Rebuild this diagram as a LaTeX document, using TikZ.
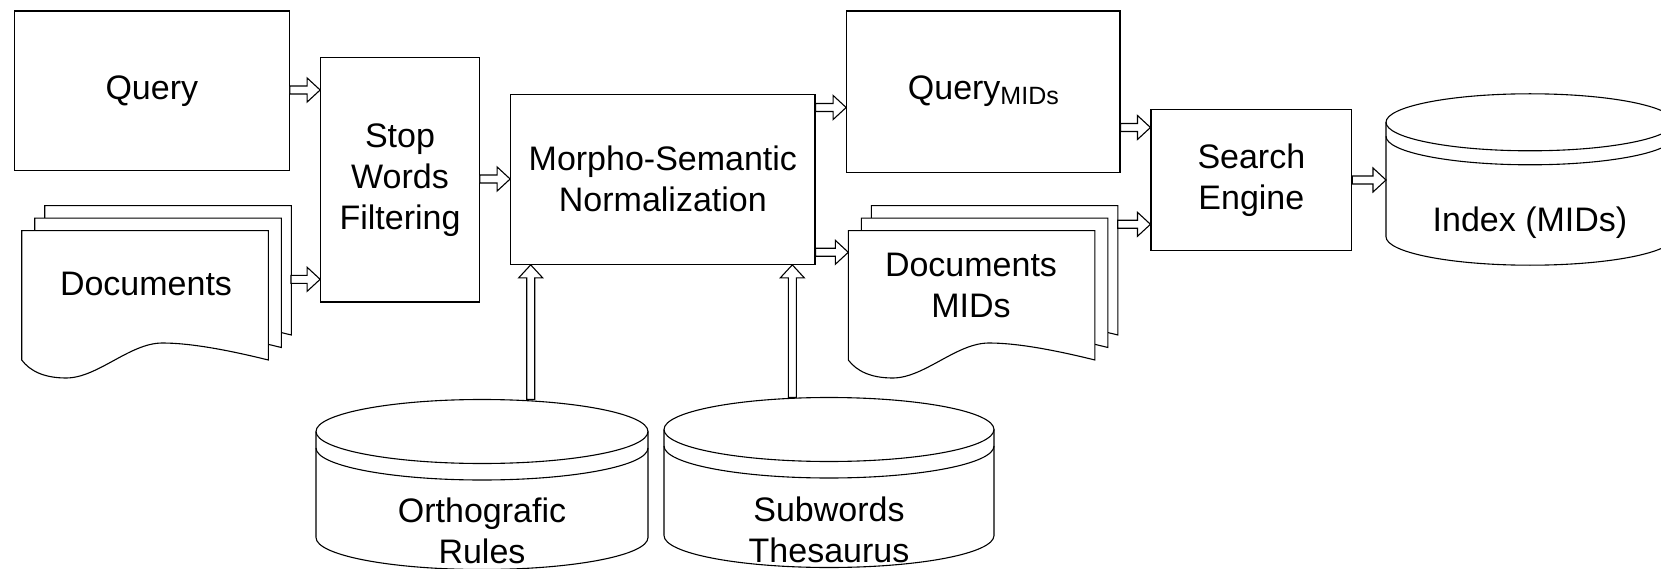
\documentclass[tikz,border=0pt]{standalone}
\usepackage{fontspec}
\setmainfont{Liberation Sans}
\usetikzlibrary{calc}
\tikzset{
  shp/.style={draw=black, line width=1.1pt, fill=white, line join=miter},
  box/.style={shp, inner sep=0pt, align=center, font=\fontsize{34}{41}\selectfont},
  ghost/.style={inner sep=0pt, outer sep=0pt},
  lbl/.style={inner sep=0pt, align=center, font=\fontsize{34}{41}\selectfont},
  hfat/.style={shp, to path={let \p1=(\tikztostart), \p2=(\tikztotarget) in
     (\x1,{\y1+4pt}) -- ({\x2-13pt},{\y1+4pt}) -- ({\x2-13pt},{\y1+12pt}) -- (\x2,\y1)
     -- ({\x2-13pt},{\y1-12pt}) -- ({\x2-13pt},{\y1-4pt}) -- (\x1,{\y1-4pt}) -- cycle}},
  vfat/.style={shp, to path={let \p1=(\tikztostart), \p2=(\tikztotarget) in
     ({\x1-4pt},\y1) -- ({\x1-4pt},{\y2-13pt}) -- ({\x1-12pt},{\y2-13pt}) -- (\x1,\y2)
     -- ({\x1+12pt},{\y2-13pt}) -- ({\x1+4pt},{\y2-13pt}) -- ({\x1+4pt},\y1) -- cycle}}
}
\newcommand\docsheet{%
  \draw[shp] (0,0) -- (246.6,0) -- (246.6,129.3)
    .. controls (205,119) and (168,112.3) .. (140.6,112.3)
    .. controls (108,112.3) and (76,147.3) .. (44.4,147.3)
    .. controls (22,147.3) and (8,140) .. (0,129.3) -- cycle;}
\newcommand\docstack[2]{%
  \begin{scope}[shift={({#1+23},{#2-25})}]\docsheet\end{scope}
  \begin{scope}[shift={({#1+13},{#2-12.5})}]\docsheet\end{scope}
  \begin{scope}[shift={(#1,#2)}]\docsheet\end{scope}}
% cx, cyt, rx, ry, h, band
\newcommand\dbcyl[6]{%
  \draw[shp] ({#1-#3},#2) -- ({#1-#3},{#2+#5})
     arc[start angle=180, end angle=0, x radius=#3, y radius=#4]
     -- ({#1+#3},#2)
     arc[start angle=0, end angle=-180, x radius=#3, y radius=#4] -- cycle;
  \draw[shp, fill=none] ({#1-#3},#2) arc[start angle=180, end angle=0, x radius=#3, y radius=#4];
  \draw[shp, fill=none] ({#1-#3},{#2+#6}) arc[start angle=180, end angle=0, x radius=#3, y radius=#4];}
\begin{document}
\begin{tikzpicture}[x=1pt, y=-1pt]
\useasboundingbox (0,0) rectangle (1661,569);
\fill[white] (0,0) rectangle (1661,569);

% boxes
\node[box, minimum width=275pt, minimum height=159.7pt] (query) at (151.8,90.85) {Query};
\node[box, minimum width=158.6pt, minimum height=244.3pt] (stop) at (400,179.85) {Stop\\Words\\Filtering};
\node[box, minimum width=304.3pt, minimum height=170pt] (morpho) at (662.85,179.3) {Morpho-Semantic\\Normalization};
\node[box, minimum width=273.3pt, minimum height=161.3pt] (qmids) at (983.35,91.65)
  {Query\raisebox{-5pt}{\fontsize{25}{25}\selectfont MIDs}};
\node[box, minimum width=200.7pt, minimum height=141.4pt] (search) at (1251.35,180) {Search\\Engine};

% document stacks
\docstack{21.7}{230.7}
\node[ghost, minimum width=269.3pt, minimum height=154.3pt] (docs) at (156.35,282.85) {};
\node[lbl] (docstxt) at (146,284) {Documents};
\docstack{848.3}{230.7}
\node[ghost, minimum width=269.4pt, minimum height=154.3pt] (dmids) at (983,282.85) {};
\node[lbl] (dmidstxt) at (971,285) {Documents\\MIDs};

% databases
\dbcyl{482}{431.5}{166}{32}{106}{16.5}
\node[ghost, minimum width=332pt, minimum height=170pt] (ortho) at (482,484.5) {};
\node[lbl] (orthotxt) at (482,531) {Orthografic\\Rules};
\dbcyl{829}{429.5}{165}{32}{106}{16.5}
\node[ghost, minimum width=330pt, minimum height=170pt] (subw) at (829,482.5) {};
\node[lbl] (subwtxt) at (829,530) {Subwords\\Thesaurus};
\dbcyl{1530}{122.3}{144}{28.5}{114.4}{14}
\node[ghost, minimum width=288pt, minimum height=171.2pt] (index) at (1530,179.4) {};
\node[lbl] (indextxt) at (1530,223) {Index (MIDs)};

% connectors
\draw[hfat] (query.east |- 0,90) to (stop.west |- 0,90);
\draw[hfat] (docs.east |- 0,279.3) to (stop.west |- 0,279.3);
\draw[hfat] (stop.east |- 0,179) to (morpho.west |- 0,179);
\draw[hfat] (morpho.east |- 0,107.5) to (qmids.west |- 0,107.5);
\draw[hfat] (morpho.east |- 0,252.3) to (dmids.west |- 0,252.3);
\draw[hfat] (qmids.east |- 0,127.5) to (search.west |- 0,127.5);
\draw[hfat] (dmids.east |- 0,224.3) to (search.west |- 0,224.3);
\draw[hfat] (search.east) to (index.west |- search.east);
\draw[vfat] (ortho.north -| 530.7,0) to (morpho.south -| 530.7,0);
\draw[vfat] (subw.north -| 792.3,0) to (morpho.south -| 792.3,0);
\end{tikzpicture}
\end{document}
